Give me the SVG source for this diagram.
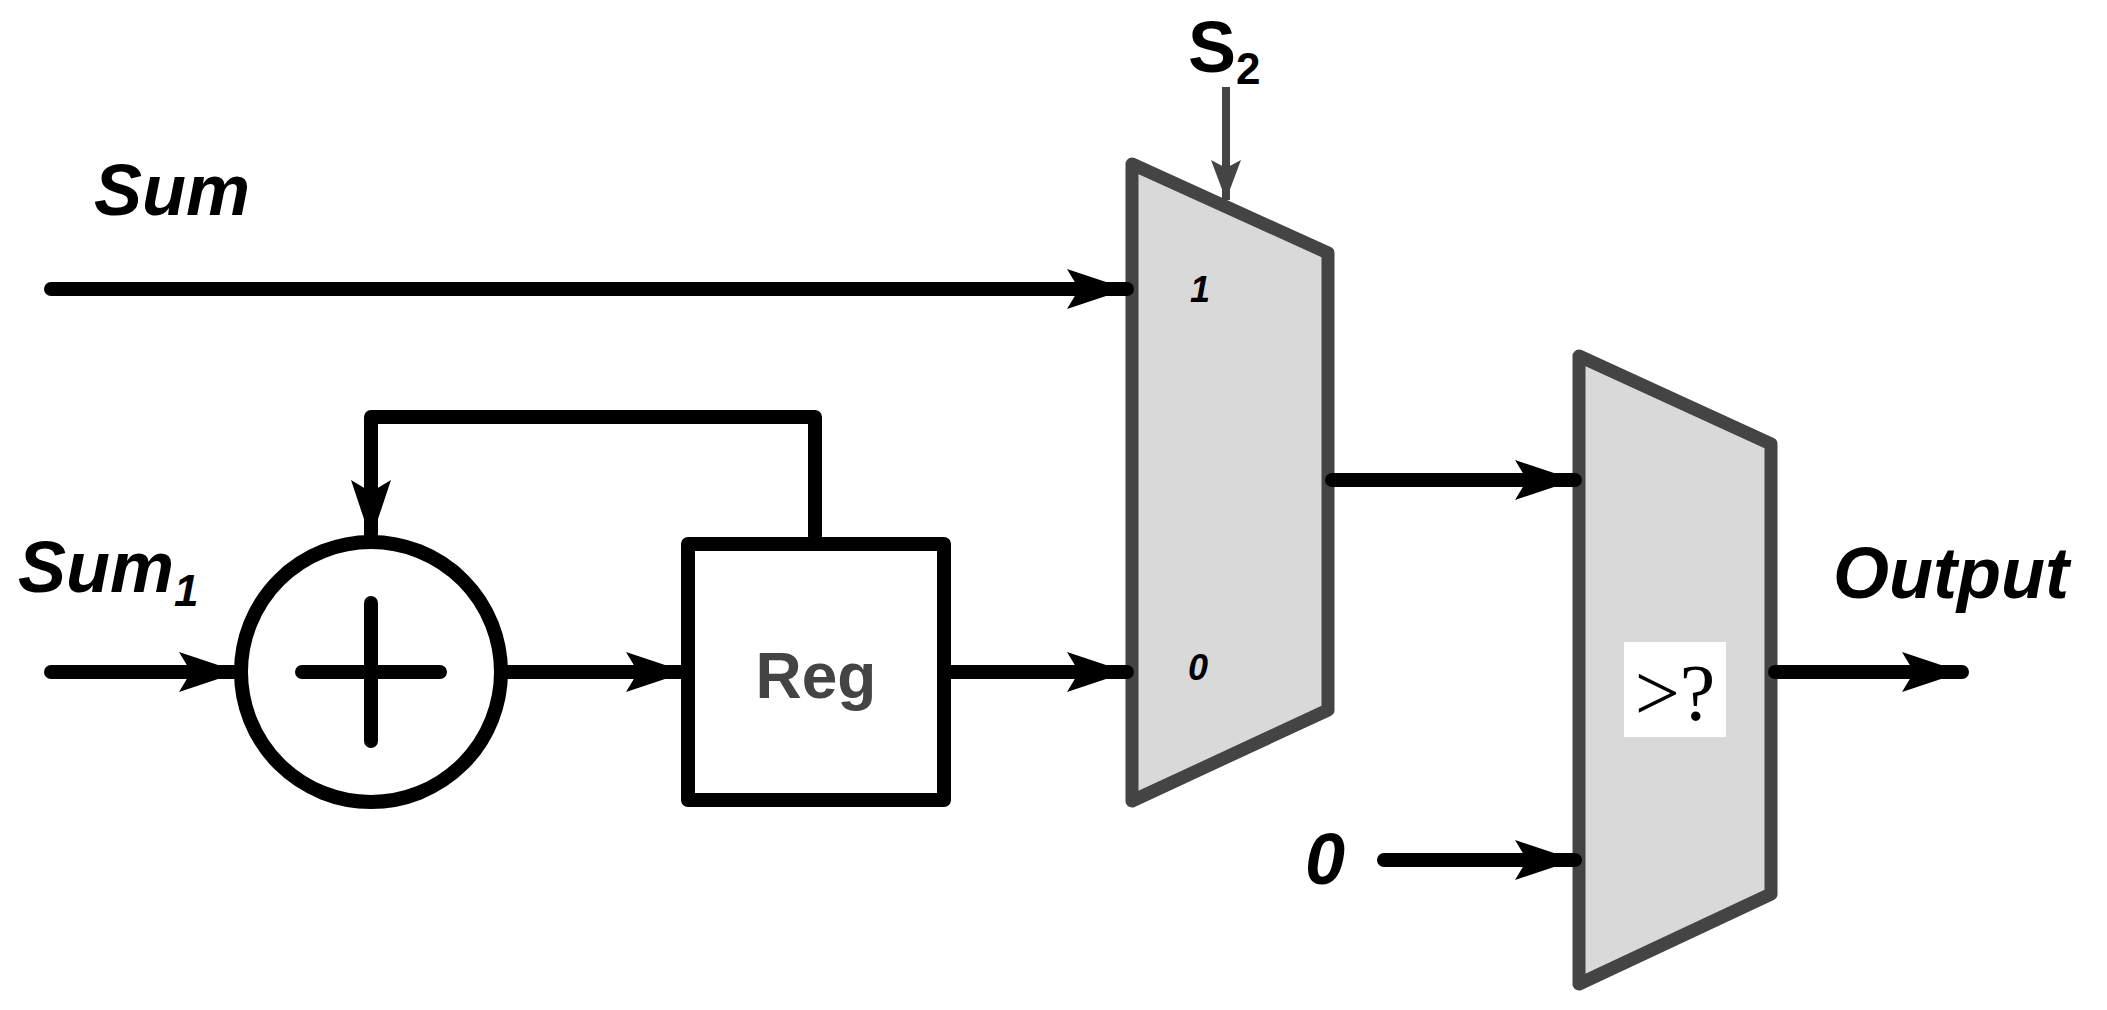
<svg xmlns="http://www.w3.org/2000/svg" width="2107" height="1010" viewBox="0 0 2107 1010">
<style>
.w{stroke:#000;stroke-width:14;fill:none;stroke-linecap:round;stroke-linejoin:round}
.mux{fill:#d9d9d9;stroke:#444;stroke-width:13;stroke-linejoin:round}
.lbl{font-family:"Liberation Sans",Arial,sans-serif;font-weight:bold;font-style:italic;fill:#000}
</style>
<defs>
<marker id="a" markerUnits="userSpaceOnUse" markerWidth="64" markerHeight="44" refX="60" refY="22" orient="auto">
<path d="M0,2 L60,22 L0,42 L12,22 Z" fill="#000"/>
</marker>
<marker id="g" markerUnits="userSpaceOnUse" markerWidth="44" markerHeight="34" refX="40" refY="17" orient="auto">
<path d="M0,2 L40,17 L0,32 L8,17 Z" fill="#444"/>
</marker>
</defs>
<g id="mux1">
<polygon class="mux" points="1132,164 1328,253 1328,710 1132,801"/>
<text class="lbl" x="1190" y="302" font-size="36" font-weight="normal">1</text>
<text class="lbl" x="1188" y="680" font-size="36" font-weight="normal">0</text>
</g>
<g id="mux2">
<polygon class="mux" points="1579,356 1771,444 1771,894 1579,984"/>
<rect x="1624" y="642" width="102" height="95" fill="#fff"/>
<text x="1675" y="720" font-size="80" text-anchor="middle" font-family="Liberation Serif,serif">&gt;?</text>
</g>
<g id="adder">
<circle cx="371" cy="672" r="130" fill="#fff" stroke="#000" stroke-width="14"/>
<path class="w" d="M302,672 H440 M371,603 V741" stroke-width="16"/>
</g>
<g id="reg">
<rect x="688" y="544" width="256" height="256" fill="#fff" stroke="#000" stroke-width="14" stroke-linejoin="round"/>
<text x="816" y="698" font-size="64" font-weight="bold" text-anchor="middle" fill="#444" font-family="Liberation Sans,Arial,sans-serif">Reg</text>
</g>
<g id="labels">
<text class="lbl" x="94" y="215" font-size="72">Sum</text>
<text class="lbl" x="18" y="592" font-size="72">Sum<tspan font-size="44" dy="14">1</tspan></text>
<text x="1188" y="72" font-size="72" font-weight="bold" font-family="Liberation Sans,Arial,sans-serif">S<tspan font-size="44" dy="12">2</tspan></text>
<text class="lbl" x="1305" y="884" font-size="72">0</text>
<text class="lbl" x="1833" y="598" font-size="72">Output</text>
</g>
<g id="connectors">
<path class="w" d="M51,289 H1127" marker-end="url(#a)"/>
<path class="w" d="M51,672 H239" marker-end="url(#a)"/>
<path class="w" d="M503,672 H686" marker-end="url(#a)"/>
<path class="w" d="M944,672 H1127" marker-end="url(#a)"/>
<path class="w" d="M815,536 V417 H371 V540" marker-end="url(#a)"/>
<path class="w" d="M1332,480 H1575" marker-end="url(#a)"/>
<path class="w" d="M1384,860 H1575" marker-end="url(#a)"/>
<path class="w" d="M1775,672 H1962" marker-end="url(#a)"/>
<path d="M1226,87 V200" stroke="#444" stroke-width="8" fill="none" marker-end="url(#g)"/>
</g>
</svg>
